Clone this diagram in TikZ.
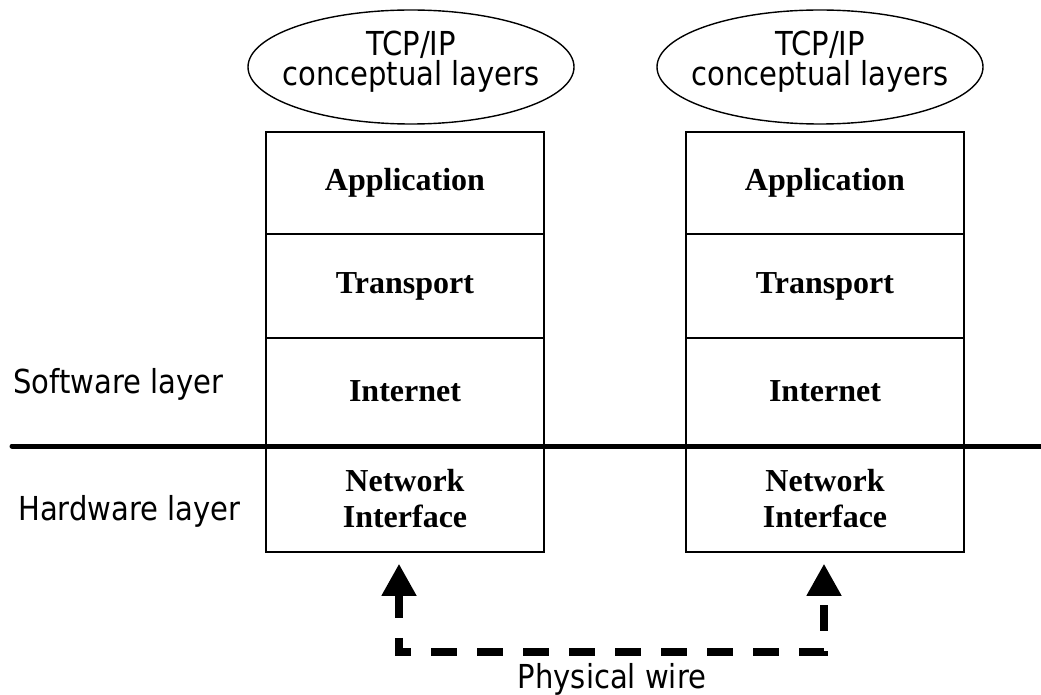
\documentclass[tikz,border=0pt]{standalone}
\usepackage{fontspec}
\setmainfont{Liberation Serif}
\newfontfamily\labelfont[FakeStretch=0.88]{DejaVu Sans}
\usetikzlibrary{shapes.geometric, arrows.meta, calc}

\begin{document}
\begin{tikzpicture}[x=1pt, y=-1pt,
  cell/.style={draw, line width=1.5pt, minimum width=278pt, inner sep=0pt,
    align=center, font=\bfseries\fontsize{32}{36}\selectfont},
  cloud/.style={ellipse, draw, line width=1.4pt, minimum width=326pt,
    minimum height=114pt, inner sep=0pt},
  sans/.style={font=\labelfont\fontsize{33}{30}\selectfont, inner sep=0pt},
  ground/.style={line width=5pt, line cap=round},
  wire/.style={line width=7.5pt, dash pattern=on 26pt off 20pt, dash phase=2pt,
    {Triangle[width=33pt,length=32pt]}-{Triangle[width=33pt,length=32pt]}}
]
\useasboundingbox (0,0) rectangle (1041,695);

% layer stacks of the two hosts
\foreach \s/\x/\e in {l/405/411, r/825/820} {
  \node[cell, minimum height=102pt] (\s App) at (\x,183)   {Application};
  \node[cell, minimum height=104pt] (\s Tra) at (\x,286)   {Transport};
  \node[cell, minimum height=107pt] (\s Int) at (\x,391.5) {Internet};
  \node[cell, minimum height=107pt] (\s Net) at (\x,498.5) {Network\\Interface};
  \node[cloud] (\s Cloud) at (\e,67) {};
  \node[sans, align=center] (\s Title) at ([yshift=5pt]\s Cloud.center)
    {TCP/IP\\conceptual layers};
}

% software / hardware boundary
\coordinate (groundL) at (12,446);
\coordinate (groundR) at (1050,446);
\draw[ground] (groundL) -- (groundR);

\node[sans, anchor=base west] (soft) at (13,393) {Software layer};
\node[sans, anchor=base west] (hard) at (18,520) {Hardware layer};

% physical wire between the network interfaces
\coordinate (tipL) at ($(lNet.south)+(-6,11)$);
\coordinate (tipR) at ($(rNet.south)+(-1,11)$);
\coordinate (bendL) at ($(tipL)+(0,88)$);
\draw[wire] (tipL) -- (bendL) -| (tipR);

\node[sans, anchor=base] (wireLabel) at (612,688) {Physical wire};
\end{tikzpicture}
\end{document}
